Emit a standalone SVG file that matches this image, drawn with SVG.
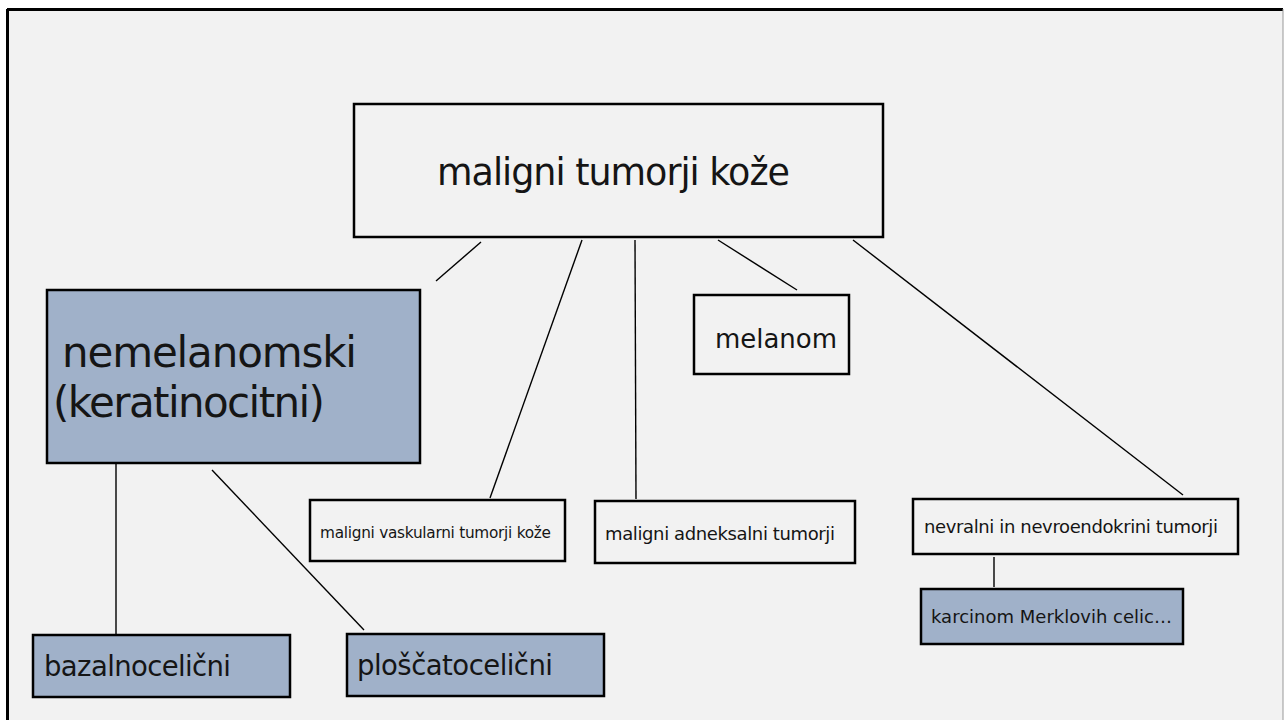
<svg xmlns="http://www.w3.org/2000/svg" width="1284" height="720" viewBox="0 0 1284 720">
<style>
.box{fill:#f2f2f2;stroke:#000;stroke-width:2.5}
.fbox{fill:#a0b1c9;stroke:#000;stroke-width:2.5}
.t{font-family:"DejaVu Sans","Liberation Sans",sans-serif;fill:#151515}
.c{stroke:#000;stroke-width:1.4;fill:none}
</style>
<rect x="0" y="0" width="1284" height="720" fill="#ffffff"/>
<rect x="7" y="9" width="1276" height="712" fill="#f2f2f2"/>
<line x1="7" y1="9.5" x2="1283" y2="9.5" stroke="#000" stroke-width="3"/>
<line x1="7.5" y1="9" x2="7.5" y2="720" stroke="#000" stroke-width="3"/>
<line x1="1283" y1="9" x2="1283" y2="720" stroke="#999" stroke-width="1"/>
<g id="connectors">
<line class="c" x1="481" y1="242" x2="436" y2="281"/>
<line class="c" x1="582" y1="240" x2="490" y2="498"/>
<line class="c" x1="635" y1="240" x2="636" y2="499"/>
<line class="c" x1="718" y1="240" x2="797" y2="290"/>
<line class="c" x1="853" y1="240" x2="1183" y2="495"/>
<line class="c" x1="116" y1="464" x2="116" y2="635"/>
<line class="c" x1="212" y1="470" x2="364" y2="630"/>
<line class="c" x1="994" y1="557" x2="994" y2="587"/>
</g>
<g id="n-root">
<rect class="box" x="354" y="104" width="529" height="133"/>
<text class="t" x="437" y="185" font-size="36.5" textLength="353">maligni tumorji kože</text>
</g>
<g id="n-nemelanomski">
<rect class="fbox" x="47" y="290" width="373" height="173"/>
<text class="t" x="62" y="367" font-size="42" textLength="295">nemelanomski</text>
<text class="t" x="53" y="417" font-size="42" textLength="272">(keratinocitni)</text>
</g>
<g id="n-melanom">
<rect class="box" x="694" y="295" width="155" height="79"/>
<text class="t" x="715" y="348" font-size="26" textLength="122">melanom</text>
</g>
<g id="n-vaskularni">
<rect class="box" x="310" y="500" width="255" height="61"/>
<text class="t" x="320" y="538" font-size="15.3" textLength="231">maligni vaskularni tumorji kože</text>
</g>
<g id="n-adneksalni">
<rect class="box" x="595" y="501" width="260" height="62"/>
<text class="t" x="605" y="540" font-size="18" textLength="230">maligni adneksalni tumorji</text>
</g>
<g id="n-nevralni">
<rect class="box" x="913" y="499" width="325" height="55"/>
<text class="t" x="924" y="533" font-size="18" textLength="294">nevralni in nevroendokrini tumorji</text>
</g>
<g id="n-merkel">
<rect class="fbox" x="921" y="589" width="262" height="55"/>
<text class="t" x="931" y="623" font-size="18" textLength="241">karcinom Merklovih celic…</text>
</g>
<g id="n-bazalno">
<rect class="fbox" x="33" y="635" width="257" height="62"/>
<text class="t" x="44" y="676" font-size="27.5" textLength="187">bazalnocelični</text>
</g>
<g id="n-ploscato">
<rect class="fbox" x="347" y="634" width="257" height="62"/>
<text class="t" x="357" y="675" font-size="27.5" textLength="196">ploščatocelični</text>
</g>
</svg>
